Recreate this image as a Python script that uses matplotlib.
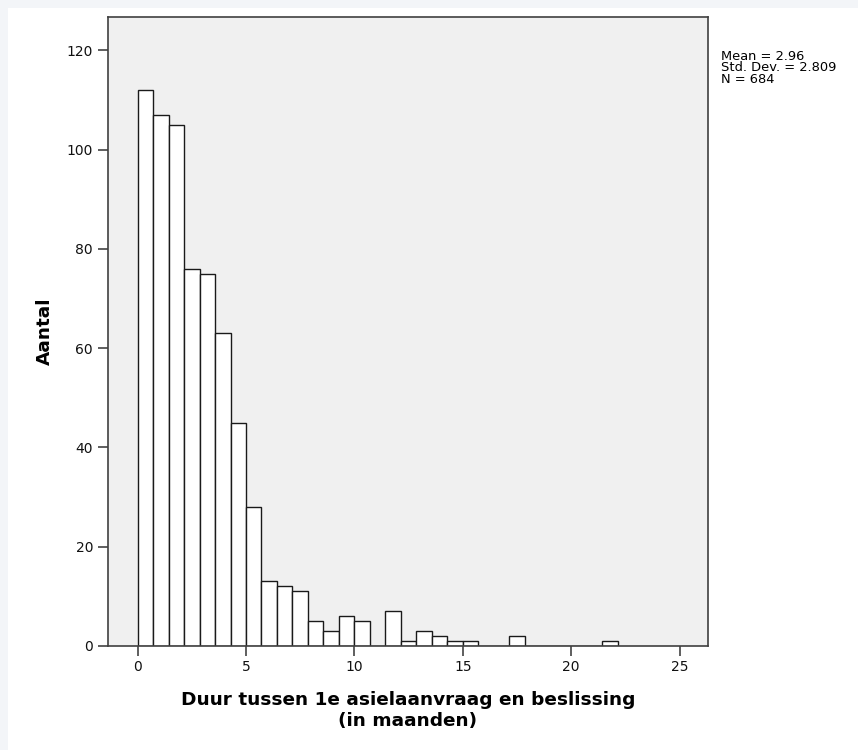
import numpy as np
import matplotlib.pyplot as plt
from matplotlib.patches import Rectangle

plt.rcParams['font.family'] = ['DejaVu Sans']

# histogram: bins of 5/7 month, counts
bin_width = 5 / 7
counts = [112, 107, 105, 76, 75, 63, 45, 28, 13, 12, 11, 5, 3, 6, 5, 0,
          7, 1, 3, 2, 1, 1, 0, 0, 2, 0, 0, 0, 0, 0, 1]
x_ticks = [0, 5, 10, 15, 20, 25]
y_ticks = [0, 20, 40, 60, 80, 100, 120]
stats = "Mean = 2.96\nStd. Dev. = 2.809\nN = 684"
xlabel = "Duur tussen 1e asielaanvraag en beslissing\n(in maanden)"
ylabel = "Aantal"

edges = np.arange(len(counts)) * bin_width

fig = plt.figure(figsize=(8.58, 7.5), dpi=100)
fig.patch.set_facecolor('white')
# faint frame at top / left like the screenshot
fig.patches.append(Rectangle((0, 1 - 8 / 750), 1, 8 / 750, transform=fig.transFigure,
                             facecolor='#f3f5f8', edgecolor='none', zorder=0))
fig.patches.append(Rectangle((0, 0), 8 / 858, 1, transform=fig.transFigure,
                             facecolor='#f3f5f8', edgecolor='none', zorder=0))

ax = fig.add_axes([0.1255, 0.139, 0.700, 0.838])
ax.set_facecolor('#f0f0f0')
ax.bar(edges, counts, width=bin_width, align='edge', facecolor='white',
       edgecolor='#1a1a1a', linewidth=1.0)

ax.set_xlim(-1.38, 26.32)
ax.set_ylim(0, 126.7)
ax.set_xticks(x_ticks)
ax.set_yticks(y_ticks)
ax.tick_params(direction='out', length=7, width=1.1, color='#333333',
               labelsize=10, labelcolor='#111111')
for s in ax.spines.values():
    s.set_color('#404040')
    s.set_linewidth(1.2)

ax.set_xlabel(xlabel, fontsize=13.3, fontweight='bold', labelpad=12, linespacing=1.25)
ax.set_ylabel(ylabel, fontsize=13.3, fontweight='bold', labelpad=9)

fig.text(0.840, 0.933, stats, fontsize=9.4, va='top', ha='left', linespacing=0.82)

fig.savefig('out.png', dpi=100)
